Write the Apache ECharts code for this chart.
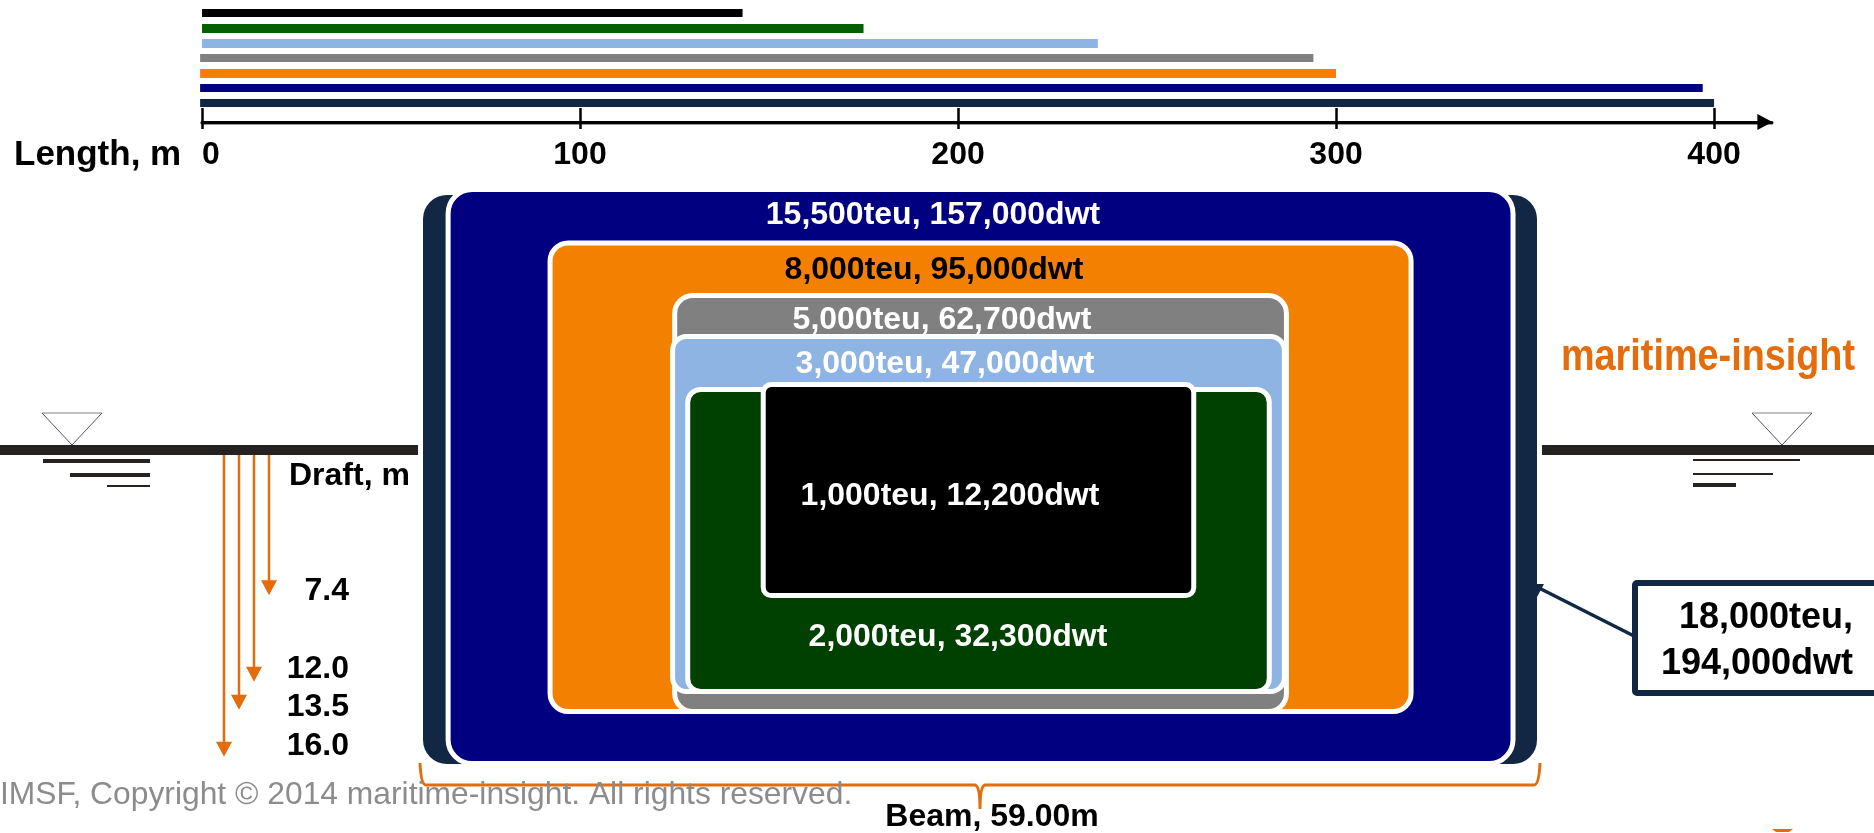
<!DOCTYPE html>
<html>
<head>
<meta charset="utf-8">
<title>Container ship dimensions by size class</title>
<script src="https://cdn.jsdelivr.net/npm/echarts@6/dist/echarts.min.js"></script>
<style>
  html, body { margin: 0; padding: 0; background: #fff; }
  #chart { width: 1874px; height: 833px; }
</style>
</head>
<body>
<div id="chart"></div>
<script>
// Ship classes, smallest first in the length chart
const shipClasses = ['1,000teu', '2,000teu', '3,000teu', '5,000teu', '8,000teu', '15,500teu', '18,000teu'];
const lengthStart = [0, 0, 0, -0.5, -0.5, -0.5, -0.5];
const lengthM = [143, 175, 237, 294, 300, 397, 400];
const lengthTicks = [0, 100, 200, 300, 400];

// Midship sections, largest first so that smaller hulls sit on top (metres)
const sectionOrder = ['18,000teu', '15,500teu', '8,000teu', '5,000teu', '3,000teu', '2,000teu', '1,000teu'];
const beamM = [59.0, 56.4, 45.6, 32.4, 32.4, 30.8, 22.8];
const centreOffsetM = [0, 0.03, 0.03, 0.03, -0.08, -0.08, -0.08];
const deckAboveWaterM = [-13.88, -14.17, -11.33, -8.54, -6.36, -3.54, -3.8];
const keelBelowWaterM = [16.38, 16.36, 13.59, 13.59, 12.53, 12.53, 7.42];

// Draft arrows, left to right
const draftM = [16.0, 13.5, 12.0, 7.4];
const beamLabel = 'Beam, 59.00m';

const navy = '#000080', ink = '#122744', orange = '#F48000', copper = '#E46C0A', waterInk = '#262220';
const barColors = ['#000000', '#056005', '#8EB4E3', '#808080', orange, navy, ink];
const barThickness = [8, 9, 9, 8, 9, 8, 8];
const hullColors = [ink, navy, orange, '#808080', '#8EB4E3', '#004000', '#000000'];
const hullRadius = [24, 24, 18, 18, 14, 13, 8];

const FAMILY = '"Liberation Sans", Arial, sans-serif';
const BOLD = 'bold 32px ' + FAMILY;

const boxLabels = [
  { t: '15,500teu, 157,000dwt', x: 933, y: 215, c: '#fff' },
  { t: '8,000teu, 95,000dwt', x: 934, y: 270, c: '#000' },
  { t: '5,000teu, 62,700dwt', x: 942, y: 320, c: '#fff' },
  { t: '3,000teu, 47,000dwt', x: 945, y: 364, c: '#fff' },
  { t: '1,000teu, 12,200dwt', x: 950, y: 496, c: '#fff' },
  { t: '2,000teu, 32,300dwt', x: 958, y: 637, c: '#fff' }
];
const draftLabelY = [746, 707, 669, 591];

const text = (t, x, y, align, font, fill) => ({
  type: 'text', z: 100, silent: true,
  style: { text: t, x, y, align, verticalAlign: 'middle', font: font || BOLD, fill: fill || '#000' }
});
const bar = (x, y, w, h, fill) => ({
  type: 'rect', z: 50, silent: true, shape: { x, y, width: w, height: h }, style: { fill }
});
const waterMark = (apexX) => ({
  type: 'group', z: 50, silent: true,
  children: [
    { type: 'line', shape: { x1: apexX - 30, y1: 413, x2: apexX + 30, y2: 413 }, style: { stroke: '#aaaaaa', lineWidth: 1.5 } },
    { type: 'polyline', shape: { points: [[apexX - 30, 413], [apexX, 445], [apexX + 30, 413]] }, style: { stroke: '#555555', lineWidth: 1, fill: 'none' } }
  ]
});

const graphics = [
  text('Length, m', 14, 155, 'left', 'bold 35px ' + FAMILY),
  text('Draft, m', 289, 476, 'left'),
  text(beamLabel, 992, 817, 'center'),
  {
    // The wordmark is a condensed face: squeeze the bold sans to fit
    type: 'text', z: 100, silent: true, x: 1708, y: 358, scaleX: 0.84,
    style: { text: 'maritime-insight', x: 0, y: 0, align: 'center', verticalAlign: 'middle', font: 'bold 45px ' + FAMILY, fill: copper }
  },
  text('IMSF, Copyright \u00A9 2014 maritime-insight. All rights reserved.', 0, 795, 'left', '31.8px ' + FAMILY, '#8C8C8C'),
  // Waterline and ripple marks either side of the hull
  bar(0, 445, 418, 10, waterInk),
  bar(1542, 445, 332, 10, waterInk),
  bar(43, 459, 107, 4, waterInk),
  bar(70, 473, 80, 4, waterInk),
  bar(107, 485, 43, 2, waterInk),
  bar(1693, 459, 107, 2, waterInk),
  bar(1693, 473, 80, 2, waterInk),
  bar(1693, 483, 43, 4, waterInk),
  waterMark(72),
  waterMark(1782),
  // Callout for the largest class
  {
    type: 'rect', z: 60, silent: true,
    shape: { x: 1635, y: 583, width: 245, height: 110, r: 2 },
    style: { fill: '#fff', stroke: ink, lineWidth: 6 }
  },
  {
    type: 'line', z: 60, silent: true,
    shape: { x1: 1634, y1: 636, x2: 1539, y2: 588 },
    style: { stroke: ink, lineWidth: 3.5 }
  },
  {
    type: 'polygon', z: 60, silent: true,
    shape: { points: [[1537, 584], [1544, 584], [1537, 597]] },
    style: { fill: ink }
  },
  text('18,000teu,', 1853, 618, 'right', 'bold 36px ' + FAMILY),
  text('194,000dwt', 1853, 664, 'right', 'bold 36px ' + FAMILY),
  // Sliver of the footer mark at the page edge
  {
    type: 'polygon', z: 50, silent: true,
    shape: { points: [[1772, 829], [1793, 829], [1789, 832], [1776, 832]] },
    style: { fill: copper }
  }
];
boxLabels.forEach(l => graphics.push(text(l.t, l.x, l.y, 'center', BOLD, l.c)));
draftM.forEach((d, i) => graphics.push(text(d.toFixed(1), 349, draftLabelY[i], 'right')));

const option = {
  animation: false,
  backgroundColor: '#fff',
  grid: [
    { left: 202, top: 5.5, width: 1569.9, height: 105 },
    { left: 423, top: 192, width: 1114, height: 572 },
    { left: 224, top: 192, width: 45, height: 572 }
  ],
  xAxis: [
    {
      gridIndex: 0, type: 'value', min: 0, max: 415.3, position: 'bottom', offset: 11.5,
      splitLine: { show: false },
      axisLine: {
        show: true, symbol: ['none', 'triangle'], symbolSize: [16, 15], symbolOffset: [0, -7],
        lineStyle: { color: '#000', width: 3, shadowColor: '#999', shadowOffsetY: 1 }
      },
      axisTick: { show: true, customValues: lengthTicks, length: 7, lineStyle: { color: '#000', width: 2.5 } },
      axisLabel: {
        show: true, customValues: lengthTicks, alignMinLabel: 'left', margin: 17,
        color: '#000', fontFamily: FAMILY, fontWeight: 'bold', fontSize: 32,
        formatter: v => String(v)
      }
    },
    {
      // Same scale again: draws the upper half of each tick
      gridIndex: 0, type: 'value', min: 0, max: 415.3, position: 'bottom', offset: 11.5,
      splitLine: { show: false }, axisLine: { show: false }, axisLabel: { show: false },
      axisTick: { show: true, inside: true, customValues: lengthTicks, length: 14, lineStyle: { color: '#000', width: 2.5 } }
    },
    { gridIndex: 1, type: 'value', min: -29.5, max: 29.5, show: false },
    { gridIndex: 2, type: 'category', data: draftM.map(String), boundaryGap: false, show: false }
  ],
  yAxis: [
    { gridIndex: 0, type: 'category', data: shipClasses, inverse: false, show: false },
    { gridIndex: 1, type: 'value', min: -14.04, max: 16.38, inverse: true, show: false },
    { gridIndex: 2, type: 'value', min: -14.04, max: 16.38, inverse: true, show: false }
  ],
  graphic: { elements: graphics },
  series: [
    {
      name: 'Length',
      type: 'custom', xAxisIndex: 0, yAxisIndex: 0, silent: true, clip: false,
      encode: { x: [1, 2], y: 0 },
      data: shipClasses.map((c, i) => [6 - i, lengthStart[i], lengthM[i]]),
      renderItem(params, api) {
        const i = params.dataIndex;
        const from = api.coord([api.value(1), api.value(0)]);
        const to = api.coord([api.value(2), api.value(0)]);
        const h = barThickness[i];
        return {
          type: 'rect',
          shape: { x: from[0], y: Math.round(from[1] - h / 2 + 0.4), width: to[0] - from[0], height: h },
          style: { fill: barColors[i] }
        };
      }
    },
    {
      name: 'Midship section',
      type: 'custom', xAxisIndex: 2, yAxisIndex: 1, silent: true, clip: false,
      encode: { x: [0, 1], y: [2, 3] },
      data: sectionOrder.map((c, i) => [
        centreOffsetM[i] - beamM[i] / 2, centreOffsetM[i] + beamM[i] / 2,
        deckAboveWaterM[i], keelBelowWaterM[i]
      ]),
      renderItem(params, api) {
        const i = params.dataIndex;
        const a = api.coord([api.value(0), api.value(2)]);
        const b = api.coord([api.value(1), api.value(3)]);
        return {
          type: 'rect',
          shape: { x: a[0], y: a[1], width: b[0] - a[0], height: b[1] - a[1], r: hullRadius[i] },
          style: { fill: hullColors[i], stroke: i === 0 ? null : '#fff', lineWidth: i === 0 ? 0 : 5 }
        };
      }
    },
    {
      name: 'Beam',
      type: 'custom', xAxisIndex: 2, yAxisIndex: 1, silent: true, clip: false, z: 3,
      encode: { x: [0, 1] },
      data: [[-beamM[0] / 2, beamM[0] / 2]],
      renderItem(params, api) {
        const l = api.coord([api.value(0), 0])[0] - 3;
        const r = api.coord([api.value(1), 0])[0] + 3;
        const m = (l + r) / 2;
        const d = `M${l},763 Q${l + 1},785 ${l + 6},785 L${m - 5},785 Q${m},786 ${m},809 Q${m},786 ${m + 5},785 L${r - 6},785 Q${r - 1},785 ${r},763`;
        return {
          type: 'path',
          shape: { pathData: d, x: l, y: 763, width: r - l, height: 46, layout: 'cover' },
          style: { fill: 'none', stroke: copper, lineWidth: 3 }
        };
      }
    },
    {
      name: 'Draft',
      type: 'custom', xAxisIndex: 3, yAxisIndex: 2, silent: true, clip: false,
      encode: { x: 0, y: 1 },
      data: draftM.map((d, i) => [i, d]),
      renderItem(params, api) {
        const tip = api.coord([api.value(0), api.value(1)]);
        const top = api.coord([api.value(0), 0]);
        return {
          type: 'group',
          children: [
            {
              type: 'line',
              shape: { x1: tip[0], y1: top[1] - 3, x2: tip[0], y2: tip[1] - 8 },
              style: { stroke: copper, lineWidth: 2.5 }
            },
            {
              type: 'polygon',
              shape: { points: [[tip[0] - 8, tip[1] - 15], [tip[0] + 8, tip[1] - 15], [tip[0], tip[1]]] },
              style: { fill: copper }
            }
          ]
        };
      }
    }
  ]
};

echarts.init(document.getElementById('chart'), null, { renderer: 'canvas' }).setOption(option);
</script>
</body>
</html>
